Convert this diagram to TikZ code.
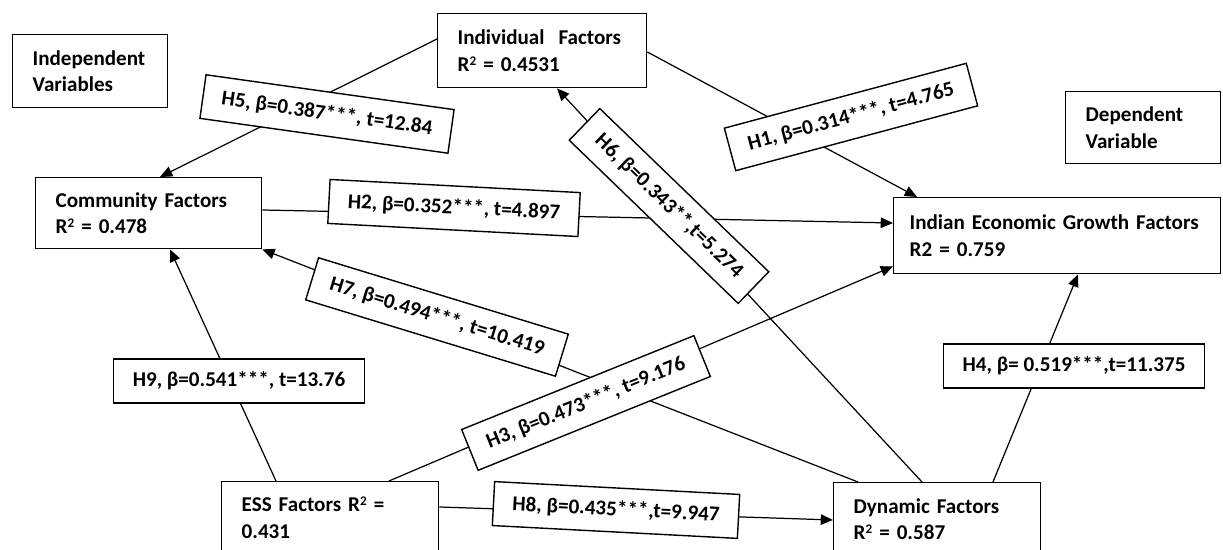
\documentclass[tikz,border=0pt]{standalone}
\usepackage{fontspec}
\setmainfont{Carlito}
\usetikzlibrary{arrows.meta}

\newcommand{\rsq}{\raisebox{0.62ex}{\fontsize{7.5}{7.5}\selectfont 2}}

\begin{document}
\begin{tikzpicture}[x=0.02cm,y=-0.02cm,
  factor/.style={draw,line width=0.8pt,anchor=north west,inner xsep=0.4cm,align=left,
    font=\fontsize{12}{15.3}\selectfont\bfseries},
  hyp/.style={draw,line width=0.8pt,fill=white,inner xsep=0.38cm,minimum height=0.88cm,
    font=\fontsize{12}{14}\selectfont\bfseries},
  link/.style={line width=0.7pt,-{Triangle[length=7pt,width=6pt]}}]

\useasboundingbox (0,0) rectangle (1223,550);

% boxes
\node[factor,text width=2.3cm,minimum height=1.46cm] (indep) at (12,34) {Independent\\Variables};
\node[factor,text width=3.38cm,minimum height=1.48cm] (indiv) at (437,13) {Individual\ \ Factors\\R\rsq{} = 0.4531};
\node[factor,text width=2.3cm,minimum height=1.44cm] (dep) at (1065,91) {Dependent\\Variable};
\node[factor,text width=5.9cm,inner xsep=0.32cm,minimum height=1.52cm] (ieg) at (893,197) {\mbox{Indian Economic Growth Factors}\\R2 = 0.759};
\node[factor,text width=3.72cm,minimum height=1.42cm] (comm) at (35,177) {Community Factors\\R\rsq{} = 0.478};
\node[factor,text width=3.54cm,minimum height=1.44cm] (ess) at (221,481) {ESS Factors R\rsq{} =\\0.431};
\node[factor,text width=3.34cm,minimum height=1.46cm] (dyn) at (833,482) {Dynamic Factors\\R\rsq{} = 0.587};

% paths
\draw[link] ([yshift=-0.52cm]indiv.north west) -- ([xshift=2.5cm]comm.north west);
\draw[link] ([yshift=-0.78cm]indiv.north east) -- ([xshift=0.48cm]ieg.north west);
\draw[link] ([yshift=-0.66cm]comm.north east) -- ([yshift=-0.52cm]ieg.north west);
\draw[link] ([xshift=3.36cm]ess.north west) -- ([yshift=0.16cm]ieg.south west);
\draw[link] ([xshift=3.2cm]dyn.north west) -- ([xshift=3.7cm]ieg.south west);
\draw[link] ([xshift=1.78cm]dyn.north west) -- ([xshift=2.4cm]indiv.south west);
\draw[link] ([xshift=0.5cm]dyn.north west) -- (comm.south east);
\draw[link] ([yshift=-0.52cm]ess.north east) -- ([yshift=-0.76cm]dyn.north west);
\draw[link] ([xshift=1.1cm]ess.north west) -- ([xshift=2.7cm]comm.south west);

% hypotheses
\node[hyp,rotate=-8] (h5) at (327,114) {H5, β=0.387***, t=12.84};
\node[hyp,rotate=15] (h1) at (851,117) {H1, β=0.314***, t=4.765};
\node[hyp,rotate=-3] (h2) at (454,208) {H2, β=0.352***, t=4.897};
\node[hyp,rotate=-44] (h6) at (669,206) {H6, β=0.343**,t=5.274};
\node[hyp,rotate=-17] (h7) at (437,317) {H7, β=0.494***, t=10.419};
\node[hyp,rotate=22] (h3) at (586,403) {H3, β=0.473***, t=9.176};
\node[hyp,rotate=-3] (h8) at (616,510) {H8, β=0.435***,t=9.947};
\node[hyp] (h9) at (239,381) {H9, β=0.541***, t=13.76};
\node[hyp] (h4) at (1074,366) {H4, β= 0.519***,t=11.375};

\end{tikzpicture}
\end{document}
